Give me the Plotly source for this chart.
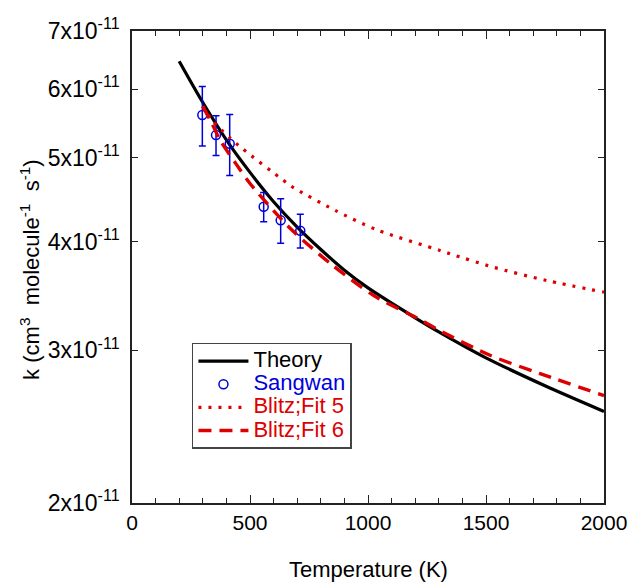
import plotly.graph_objects as go

# Theory curve
theory_T = [200, 300, 415, 500, 600, 700, 800, 900, 1000, 1100, 1200, 1300, 1500, 1750, 2000]
theory_k = [6.46, 5.79, 5.17, 4.81, 4.45, 4.16, 3.92, 3.71, 3.54, 3.40, 3.27, 3.15, 2.94, 2.73, 2.55]

# Sangwan experimental points
sang_T = [298, 356, 414, 558, 630, 713]
sang_k = [5.60, 5.31, 5.19, 4.39, 4.235, 4.12]
sang_err = [0.44, 0.28, 0.42, 0.17, 0.25, 0.185]

# Blitz Fit 5 (dotted)
fit5_T = [300, 338, 380, 415, 465, 641, 684, 860, 1037, 1305, 1354, 1531, 1757, 2000]
fit5_k = [5.73, 5.53, 5.38, 5.27, 5.13, 4.71, 4.62, 4.35, 4.13, 3.91, 3.87, 3.74, 3.61, 3.50]

# Blitz Fit 6 (dashed)
fit6_T = [300, 338, 373, 443, 500, 669, 839, 1023, 1206, 1305, 1517, 1729, 2000]
fit6_k = [5.73, 5.48, 5.24, 4.91, 4.67, 4.15, 3.78, 3.47, 3.27, 3.16, 2.96, 2.82, 2.66]

ytick_vals = [2, 3, 4, 5, 6, 7]
ytick_text = [f"{v}x10<sup>-11</sup>" for v in ytick_vals]

scale = 1e-11
RED = "#dd0000"
BLUE = "#0000dd"
FONT = "Liberation Sans, Arial, Helvetica, sans-serif"


def lg(text, color):
    return f'<span style="font-size:22px;color:{color}">{text}</span>'


fig = go.Figure()
fig.add_trace(go.Scatter(
    x=theory_T, y=[v * scale for v in theory_k], mode="lines",
    line=dict(color="black", width=3.2, shape="spline", smoothing=0.8),
    name=lg("Theory", "black")))
fig.add_trace(go.Scatter(
    x=sang_T, y=[v * scale for v in sang_k], mode="markers",
    marker=dict(symbol="circle-open", size=9, color=BLUE, line=dict(width=1.5, color=BLUE)),
    error_y=dict(type="data", array=[e * scale for e in sang_err], color=BLUE, thickness=1.5, width=3.5),
    name=lg("Sangwan", BLUE)))
fig.add_trace(go.Scatter(
    x=fit5_T, y=[v * scale for v in fit5_k], mode="lines",
    line=dict(color=RED, width=3.2, dash="3px,7px", shape="spline", smoothing=0.8),
    name=lg("Blitz;Fit 5", RED)))
fig.add_trace(go.Scatter(
    x=fit6_T, y=[v * scale for v in fit6_k], mode="lines",
    line=dict(color=RED, width=3.4, dash="13px,8px", shape="spline", smoothing=0.8),
    name=lg("Blitz;Fit 6", RED)))

fig.update_layout(
    width=632, height=584,
    margin=dict(l=132, r=28, t=31, b=81),
    paper_bgcolor="white", plot_bgcolor="white",
    font=dict(family=FONT, size=21, color="black"),
    showlegend=True,
    legend=dict(
        x=0.127, y=0.339, xanchor="left", yanchor="top",
        bgcolor="white", bordercolor="#444", borderwidth=1.5,
        font=dict(size=15.5, color="black"),
        tracegroupgap=0, itemwidth=50,
    ),
    xaxis=dict(
        range=[0, 2000], tickvals=[0, 500, 1000, 1500, 2000],
        ticks="inside", ticklen=8, tickwidth=1.2, tickcolor="#222",
        minor=dict(dtick=100, ticks="inside", ticklen=5, tickwidth=1.2, tickcolor="#222"),
        showline=True, linecolor="#222", linewidth=1.5, mirror="ticks",
        showgrid=False, zeroline=False, automargin=False,
        tickfont=dict(size=21),
    ),
    yaxis=dict(
        type="log", range=[-10.69897, -10.154902],
        tickvals=[v * scale for v in ytick_vals], ticktext=ytick_text,
        ticks="inside", ticklen=6, tickwidth=1.2, tickcolor="#222",
        showline=True, linecolor="#222", linewidth=1.5, mirror="ticks",
        showgrid=False, zeroline=False, automargin=False,
        tickfont=dict(size=23), ticklabelstandoff=6,
    ),
    annotations=[
        dict(text="Temperature (K)", xref="paper", yref="paper", x=0.5, y=-0.14,
             xanchor="center", yanchor="middle", showarrow=False, font=dict(size=22)),
        dict(text="k (cm<sup>3</sup>  molecule<sup>-1</sup>  s<sup>-1</sup>)", xref="paper", yref="paper",
             x=-0.216, y=0.494, xanchor="center", yanchor="middle", textangle=-90,
             showarrow=False, font=dict(size=22)),
    ],
)

fig.write_html("out.html")
